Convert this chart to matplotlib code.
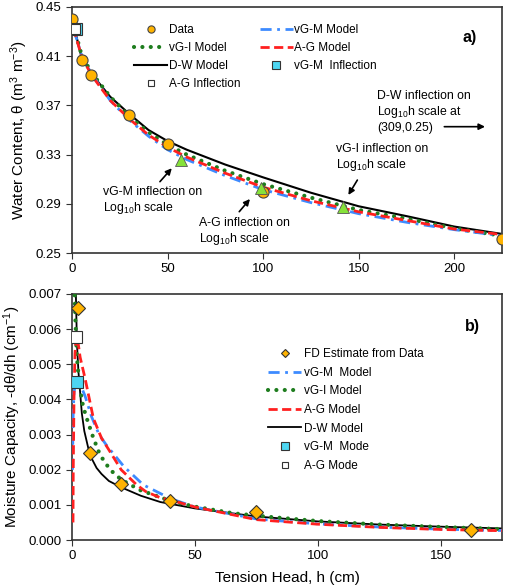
import numpy as np
import matplotlib
matplotlib.use('Agg')
import matplotlib.pyplot as plt

plt.rcParams['font.family'] = ['Liberation Sans', 'DejaVu Sans']
plt.rcParams['mathtext.fontset'] = 'custom'
plt.rcParams['mathtext.rm'] = 'Liberation Sans'
plt.rcParams['mathtext.it'] = 'Liberation Sans:italic'
plt.rcParams['axes.unicode_minus'] = True

# --- a) water retention data ---
h_data = [0, 5, 10, 30, 50, 100, 225]
theta_data = [0.440, 0.407, 0.395, 0.362, 0.339, 0.300, 0.261]

h_curve = [1, 2, 5, 10, 20, 30, 40, 50, 60, 80, 100, 125, 150, 175, 200, 225]
theta_dw = [0.434, 0.428, 0.409, 0.396, 0.377, 0.363, 0.350, 0.341, 0.334, 0.322,
            0.3115, 0.299, 0.288, 0.280, 0.2715, 0.2655]
theta_ag = [0.433, 0.426, 0.410, 0.395, 0.374, 0.359, 0.346, 0.336, 0.328, 0.315,
            0.3035, 0.2925, 0.2835, 0.2765, 0.2695, 0.265]
theta_vgm = [0.432, 0.426, 0.411, 0.396, 0.374, 0.358, 0.345, 0.334, 0.326, 0.313,
             0.3015, 0.291, 0.282, 0.275, 0.269, 0.264]
theta_vgi = [0.434, 0.428, 0.411, 0.397, 0.377, 0.361, 0.348, 0.338, 0.330, 0.317,
             0.306, 0.295, 0.285, 0.278, 0.270, 0.264]

h_infl_log = [57, 99, 142]
theta_infl_log = [0.326, 0.3026, 0.2877]
ag_infl = (1.5, 0.4325)
vgm_infl = (2.2, 0.4318)

# --- b) moisture capacity ---
h_fd = [2.5, 7.5, 20, 40, 75, 162.5]
c_fd = [0.0066, 0.00247, 0.0016, 0.00112, 0.00081, 0.00029]

h_dw = [1.5, 2, 2.6, 3.3, 4, 5, 6, 7, 8, 10, 12, 15, 20, 28, 36, 50, 75, 100, 125, 150, 175]
c_dw = [0.0072, 0.0056, 0.0048, 0.0042, 0.0036, 0.0031, 0.0028, 0.0025, 0.00232, 0.00205,
        0.00188, 0.00168, 0.0015, 0.00126, 0.00108, 0.0009, 0.00067, 0.00053, 0.00044,
        0.00038, 0.00033]
h_ag = [0.4, 0.5, 0.8, 1.2, 1.7, 2.5, 3.3, 5.3, 8.7, 12, 15.5, 20, 26.3, 30, 36, 41, 50,
        75, 100, 125, 150, 175]
c_ag = [0.0005, 0.002, 0.004, 0.0053, 0.0058, 0.0056, 0.0052, 0.0046, 0.00346, 0.0029,
        0.00251, 0.002, 0.00157, 0.00138, 0.0012, 0.00112, 0.00094, 0.00058, 0.00045,
        0.00036, 0.0003, 0.000265]
h_vgm = [0.2, 0.4, 0.8, 1.5, 2.2, 3.5, 5.3, 8, 11, 14, 21, 29, 40, 50, 75, 100, 125, 150, 175]
c_vgm = [0.002, 0.0034, 0.0042, 0.0045, 0.0045, 0.0044, 0.0041, 0.0035, 0.003, 0.0027,
         0.0021, 0.00157, 0.00118, 0.00094, 0.0006, 0.00046, 0.00037, 0.00031, 0.00027]
h_vgi = [1.0, 1.4, 2, 3, 4.5, 6, 8.7, 11.4, 15.5, 20, 27.7, 41, 50, 65.7, 80, 100, 125, 150, 175]
c_vgi = [0.0072, 0.0062, 0.0052, 0.0044, 0.0038, 0.00346, 0.0029, 0.00242, 0.002, 0.00172,
         0.00142, 0.00109, 0.00095, 0.00076, 0.00066, 0.00054, 0.00044, 0.00037, 0.00031]
ag_mode = (1.6, 0.00577)
vgm_mode = (2.2, 0.00449)

c_orange = '#FFB300'
c_blue = '#3D8BFF'
c_red = '#FF2020'
c_green = '#1E7D1E'
c_cyan = '#4DD6F2'
c_lime = '#86E23A'

blue_ls = (0, (4, 2, 1, 2))
green_ls = (0, (0.01, 2.0))
red_ls = (0, (3.3, 1.6))

fig = plt.figure(figsize=(5.09, 5.88), dpi=100)
ax1 = fig.add_axes([0.1415, 0.5697, 0.8448, 0.4184])
ax2 = fig.add_axes([0.1415, 0.0816, 0.8448, 0.4184])

# --- a) ---
ax1.plot(h_data, theta_data, 'o', color=c_orange, mec='#444444', mew=0.8, ms=8,
         label='Data', zorder=5)
ax1.plot(h_curve, theta_vgi, color=c_green, lw=3, ls=green_ls,
         dash_capstyle='round', label='vG-I Model', zorder=3)
ax1.plot(h_curve, theta_dw, color='black', lw=1.5, label='D-W Model', zorder=2)
ax1.plot(h_curve, theta_vgm, color=c_blue, lw=2, ls=blue_ls, label='vG-M Model', zorder=3)
ax1.plot(h_curve, theta_ag, color=c_red, lw=2, ls=red_ls, label='A-G Model', zorder=3)
ax1.plot(*vgm_infl, 's', color=c_cyan, mec='#333333', mew=0.8, ms=8,
         label='vG-M  Inflection', zorder=6)
ax1.plot(*ag_infl, 's', color='white', mec='#333333', mew=0.8, ms=7,
         label='A-G Inflection', zorder=6)
ax1.plot(h_infl_log, theta_infl_log, '^', color=c_lime, mec='#555555', mew=0.6, ms=8, zorder=7)

hdl, lab = ax1.get_legend_handles_labels()
order = ['Data', 'vG-I Model', 'D-W Model', 'A-G Inflection',
         'vG-M Model', 'A-G Model', 'vG-M  Inflection']
hd = dict(zip(lab, hdl))
ax1.legend([hd[k] for k in order], order, ncol=2, loc='upper left',
           bbox_to_anchor=(0.145, 0.931), frameon=False, fontsize=8.5,
           handlelength=2.8, handletextpad=0.15, columnspacing=1.6,
           labelspacing=0.5, borderpad=0, borderaxespad=0, markerscale=0.65)

ax1.set_xlim(0, 225)
ax1.set_ylim(0.25, 0.45)
ax1.set_xticks([0, 50, 100, 150, 200])
ax1.set_yticks([0.25, 0.29, 0.33, 0.37, 0.41, 0.45])
ax1.set_yticklabels(['0.25', '0.29', '0.33', '0.37', '0.41', '0.45'])
ax1.set_ylabel('Water Content, θ (m$^{3}$ m$^{-3}$)', fontsize=11, labelpad=4)
ax1.text(0.942, 0.878, 'a)', transform=ax1.transAxes, ha='right', va='center',
         fontsize=11.5, fontweight='bold')

arr = dict(arrowstyle='-|>', color='black', lw=1.2, mutation_scale=9,
           shrinkA=0, shrinkB=0)
ax1.annotate('', xy=(52.2, 0.3189), xytext=(46.0, 0.308), arrowprops=arr)
ax1.text(16.2, 0.2923, 'vG-M inflection on\nLog$_{10}$h scale', fontsize=8.8, va='center')
ax1.annotate('', xy=(93.1, 0.2939), xytext=(87.5, 0.2836), arrowprops=arr)
ax1.text(66.5, 0.2673, 'A-G inflection on\nLog$_{10}$h scale', fontsize=8.8, va='center')
ax1.annotate('', xy=(144.6, 0.2972), xytext=(149.3, 0.3093), arrowprops=arr)
ax1.text(138.1, 0.327, 'vG-I inflection on\nLog$_{10}$h scale', fontsize=8.8, va='center')
ax1.annotate('', xy=(216.1, 0.3527), xytext=(194.8, 0.3527), arrowprops=arr)
ax1.text(159.6, 0.3644, 'D-W inflection on\nLog$_{10}$h scale at\n(309,0.25)',
         fontsize=8.8, va='center')

# --- b) ---
ax2.plot(h_fd, c_fd, 'D', color=c_orange, mec='#333333', mew=0.8, ms=7.5,
         label='FD Estimate from Data', zorder=6)
ax2.plot(h_vgm, c_vgm, color=c_blue, lw=2, ls=blue_ls, label='vG-M  Model', zorder=3)
ax2.plot(h_vgi, c_vgi, color=c_green, lw=3, ls=green_ls, dash_capstyle='round',
         label='vG-I Model', zorder=3)
ax2.plot(h_ag, c_ag, color=c_red, lw=2, ls=red_ls, label='A-G Model', zorder=4)
ax2.plot(h_dw, c_dw, color='black', lw=1.3, label='D-W Model', zorder=2)
ax2.plot(*vgm_mode, 's', color=c_cyan, mec='#333333', mew=0.8, ms=9,
         label='vG-M  Mode', zorder=7)
ax2.plot(*ag_mode, 's', color='white', mec='#333333', mew=0.8, ms=8,
         label='A-G Mode', zorder=7)
ax2.legend(loc='upper left', bbox_to_anchor=(0.456, 0.78), frameon=False,
           fontsize=8.5, handlelength=2.8, handletextpad=0.2,
           labelspacing=0.56, borderpad=0, borderaxespad=0, markerscale=0.6)

ax2.set_xlim(0, 175)
ax2.set_ylim(0, 0.007)
ax2.set_xticks([0, 50, 100, 150])
ax2.set_yticks(np.arange(0, 0.0071, 0.001))
ax2.set_yticklabels(['0.000', '0.001', '0.002', '0.003', '0.004', '0.005', '0.006', '0.007'])
ax2.set_ylabel('Moisture Capacity, -dθ/dh (cm$^{-1}$)', fontsize=11, labelpad=4)
ax2.set_xlabel('Tension Head, h (cm)', fontsize=11, labelpad=6)
ax2.text(0.949, 0.867, 'b)', transform=ax2.transAxes, ha='right', va='center',
         fontsize=11.5, fontweight='bold')

for ax in (ax1, ax2):
    for s in ax.spines.values():
        s.set_color('#333333')
        s.set_linewidth(1.2)
    ax.tick_params(axis='both', labelsize=9.5, length=4, color='#333333')

fig.savefig('out.png', dpi=100)
